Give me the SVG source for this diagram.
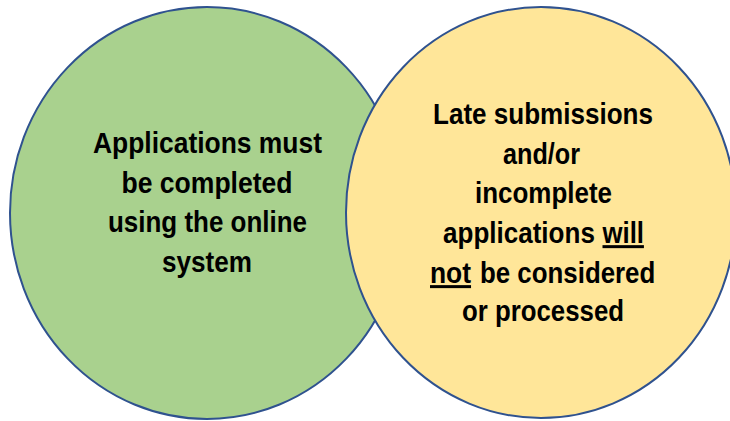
<svg xmlns="http://www.w3.org/2000/svg" width="730" height="421" viewBox="0 0 730 421">
<style>
.c{stroke:#2F528F;stroke-width:2}
.t{font-family:"Liberation Sans",Arial,sans-serif;font-weight:bold;font-size:30px;fill:#000;text-anchor:middle}
.s{text-anchor:start}
.u{text-decoration:underline}
</style>
<rect width="730" height="421" fill="#fff"/>
<g id="node-green">
<ellipse class="c" cx="207" cy="213" rx="197" ry="206" fill="#A9D18E"/>
<text class="t" x="207.5" y="153" textLength="229" lengthAdjust="spacingAndGlyphs">Applications must</text>
<text class="t" x="207" y="193" textLength="171" lengthAdjust="spacingAndGlyphs">be completed</text>
<text class="t" x="207.5" y="232" textLength="199" lengthAdjust="spacingAndGlyphs">using the online</text>
<text class="t" x="207" y="272" textLength="90" lengthAdjust="spacingAndGlyphs">system</text>
</g>
<g id="node-yellow">
<ellipse class="c" cx="541" cy="212.5" rx="195" ry="205.5" fill="#FFE699"/>
<text class="t" x="543" y="124" textLength="220" lengthAdjust="spacingAndGlyphs">Late submissions</text>
<text class="t" x="541.5" y="164" textLength="77" lengthAdjust="spacingAndGlyphs">and/or</text>
<text class="t" x="543.5" y="203" textLength="137" lengthAdjust="spacingAndGlyphs">incomplete</text>
<text class="t s" transform="translate(443,243) scale(0.868,1)">applications</text>
<text class="t s u" transform="translate(602.5,243) scale(0.857,1)">will</text>
<text class="t s u" transform="translate(430,283) scale(0.88,1)">not</text>
<text class="t s" transform="translate(480,283) scale(0.862,1)">be considered</text>
<text class="t" x="543" y="321" textLength="162" lengthAdjust="spacingAndGlyphs">or processed</text>
</g>
<g id="connectors"></g>
</svg>
